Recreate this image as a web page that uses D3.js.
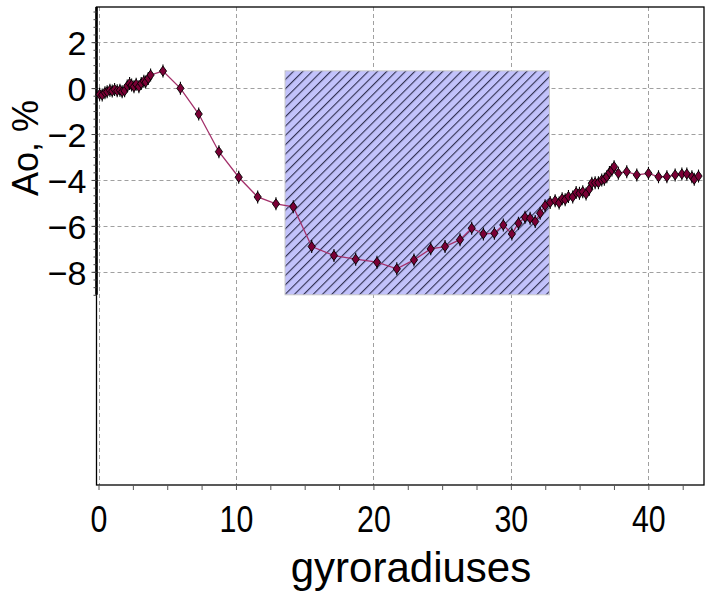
<!DOCTYPE html>
<html><head><meta charset="utf-8">
<script src="https://cdn.jsdelivr.net/npm/d3@7"></script>
<style>
html,body{margin:0;padding:0;background:#fff;}
svg{display:block;}
text{font-family:"Liberation Sans",Arial,sans-serif;fill:#000;}
</style></head>
<body>
<svg id="chart" width="706" height="598"></svg>
<script>
const xVals = [0.08,0.27,0.47,0.63,0.83,1.0,1.17,1.36,1.56,1.72,1.9,2.09,2.26,2.41,2.58,2.74,2.94,3.11,3.3,3.43,3.62,3.79,4.69,5.96,7.29,8.76,10.2,11.58,12.91,14.17,15.51,17.13,18.71,20.26,21.7,22.95,24.17,25.21,26.3,27.15,28.0,28.8,29.45,30.07,30.55,31.03,31.4,31.77,32.13,32.49,32.86,33.22,33.51,33.73,33.95,34.19,34.5,34.75,34.99,35.23,35.47,35.71,35.89,36.13,36.37,36.61,36.8,36.98,37.17,37.35,37.51,37.82,38.43,39.16,40.01,40.74,41.35,41.95,42.44,42.8,43.17,43.34,43.65];
const yVals = [-0.27,-0.30,-0.20,-0.16,-0.09,-0.13,-0.06,-0.12,-0.09,-0.16,-0.12,0.09,0.2,0.13,0.06,0.17,0.06,0.2,0.3,0.26,0.42,0.57,0.74,-0.01,-1.13,-2.77,-3.88,-4.74,-5.04,-5.17,-6.9,-7.29,-7.45,-7.58,-7.87,-7.48,-7.0,-6.9,-6.6,-6.1,-6.35,-6.32,-5.96,-6.35,-5.88,-5.62,-5.67,-5.81,-5.45,-5.12,-4.98,-4.9,-5.0,-4.82,-4.86,-4.72,-4.74,-4.55,-4.58,-4.51,-4.61,-4.4,-4.14,-4.12,-4.12,-4.0,-3.97,-3.86,-3.68,-3.57,-3.42,-3.71,-3.64,-3.78,-3.71,-3.86,-3.86,-3.78,-3.74,-3.74,-3.86,-3.97,-3.83];
const xTicks = [0,10,20,30,40];
const yTicks = [2,0,-2,-4,-6,-8];
const bandX = [13.57, 32.8];
const bandY = [-9, 0.75];
const xLabel = "gyroradiuses";
const yLabel = "Ao, %";

const svg = d3.select("#chart");
const L = 96.5, R = 704, T = 7, B = 485;
const x = d3.scaleLinear().domain([0, 44.05]).range([98.5, 704]);
const y = d3.scaleLinear().domain([-17.28, 3.53]).range([B, T]);

const defs = svg.append("defs");
const pat = defs.append("pattern").attr("id","hatch").attr("patternUnits","userSpaceOnUse")
  .attr("width",6.6).attr("height",10).attr("patternTransform","rotate(45)");
pat.append("rect").attr("width",6.6).attr("height",10).attr("fill","#c2c2fb");
pat.append("line").attr("x1",0.6).attr("x2",0.6).attr("y1",0).attr("y2",10)
  .attr("stroke","#262646").attr("stroke-width",1.05);

// grid
const grid = svg.append("g").attr("stroke","#a0a0a0").attr("stroke-dasharray","4,3").attr("stroke-width",1);
grid.selectAll(".gx").data(xTicks).join("line")
  .attr("x1",d=>Math.round(x(d))+0.5).attr("x2",d=>Math.round(x(d))+0.5).attr("y1",T).attr("y2",B);
grid.selectAll(".gy").data(yTicks).join("line")
  .attr("y1",d=>Math.round(y(d))+0.5).attr("y2",d=>Math.round(y(d))+0.5).attr("x1",L).attr("x2",R);

// band
svg.append("rect")
  .attr("x",x(bandX[0])).attr("width",x(bandX[1])-x(bandX[0]))
  .attr("y",y(bandY[1])).attr("height",y(bandY[0])-y(bandY[1]))
  .attr("fill","url(#hatch)").attr("stroke","#c8c8c8").attr("stroke-width",1);

// frame
svg.append("rect").attr("x",L).attr("y",T).attr("width",R-L).attr("height",B-T)
  .attr("fill","none").attr("stroke","#000").attr("stroke-width",1.3);
svg.append("line").attr("x1",L).attr("x2",L).attr("y1",T).attr("y2",y(-9))
  .attr("stroke","#000").attr("stroke-width",2.6);

// x axis
const xAxis = d3.axisBottom(x).tickValues(d3.range(0,44.1,2.5)).tickSize(5).tickFormat(d=> xTicks.includes(d)? d : "");
const gx = svg.append("g").attr("transform",`translate(0,${B})`).call(xAxis);
gx.select(".domain").remove();
gx.selectAll("line").attr("stroke","#555");
gx.selectAll("text").attr("font-size",37).attr("y",0).attr("dy",0)
  .attr("font-family","Liberation Sans, Arial")
  .attr("transform","translate(0,47) scale(0.82,1)");

// y axis
const yMinor = d3.range(-9, 3.5, 1/3).map(v=>Math.round(v*1000)/1000);
const yAxisMinor = d3.axisLeft(y).tickValues(yMinor).tickSize(3).tickFormat("");
const gym = svg.append("g").attr("transform",`translate(${L},0)`).call(yAxisMinor);
gym.select(".domain").remove();
gym.selectAll("line").attr("stroke","#444");
const yAxis = d3.axisLeft(y).tickValues(yTicks).tickSize(5).tickPadding(6);
const gy = svg.append("g").attr("transform",`translate(${L},0)`).call(yAxis);
gy.select(".domain").remove();
gy.selectAll("line").attr("stroke","#444");
gy.selectAll("text").attr("font-size",34).attr("font-family","Liberation Sans, Arial").attr("dy","0.36em").attr("x",-10);

// line + markers
const pts = xVals.map((v,i)=>[v,yVals[i]]);
svg.append("path").datum(pts)
  .attr("d", d3.line().x(d=>x(d[0])).y(d=>y(d[1])))
  .attr("fill","none").attr("stroke","#a3306a").attr("stroke-width",1.3);
const mk = svg.append("g").selectAll("g").data(pts).join("g")
  .attr("transform",d=>`translate(${x(d[0])},${y(d[1])})`);
mk.append("line").attr("y1",-6.5).attr("y2",6.5).attr("stroke","#000").attr("stroke-width",1.1);
mk.append("path").attr("d","M0,-5L3.6,0L0,5L-3.6,0Z").attr("fill","#7a0035").attr("stroke","#000").attr("stroke-width",0.9);

// labels
svg.append("text").attr("x",411).attr("y",582).attr("text-anchor","middle").attr("font-size",42).text(xLabel);
svg.append("text").attr("transform","translate(38,148) rotate(-90)").attr("text-anchor","middle").attr("font-size",36).text(yLabel);
</script>
</body></html>
